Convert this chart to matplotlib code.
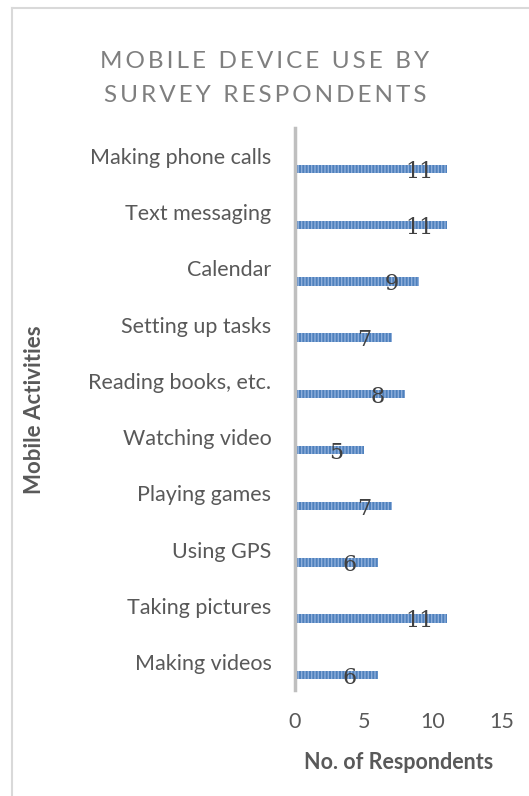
import matplotlib.pyplot as plt
from matplotlib.lines import Line2D

# data
activities = ['Making phone calls', 'Text messaging', 'Calendar', 'Setting up tasks',
              'Reading books, etc.', 'Watching video', 'Playing games', 'Using GPS',
              'Taking pictures', 'Making videos']
respondents = [11, 11, 9, 7, 8, 5, 7, 6, 11, 6]
xticks = [0, 5, 10, 15]

plt.rcParams['font.family'] = ['Lato', 'DejaVu Sans']
plt.rcParams['hatch.linewidth'] = 1.0

fig = plt.figure(figsize=(5.29, 7.96), dpi=100)
ax = fig.add_axes([295 / 529, 1 - 690 / 796, 207 / 529, 562 / 796])

pos = list(range(len(activities)))
bar_pos = [p + 0.23 for p in pos]
ax.barh(bar_pos, respondents, height=0.15, color='#4f81bd',
        edgecolor='#8eaedb', linewidth=0, hatch='|||||')

for y, v in zip(bar_pos, respondents):
    ax.annotate(str(v), (v, y), xytext=(-20, -2), textcoords='offset points',
                ha='center', va='center', fontsize=16, color='#404040',
                family='DejaVu Serif')

ax.set_xlim(0, 15)
ax.set_ylim(9.5, -0.5)
ax.set_xticks(xticks)
ax.set_yticks(pos)
ax.set_yticklabels(activities)
ax.tick_params(axis='both', length=0, colors='#595959', labelsize=15.5)
ax.tick_params(axis='y', pad=17)
ax.tick_params(axis='x', pad=16)

for s in ['top', 'right', 'bottom']:
    ax.spines[s].set_visible(False)
ax.spines['left'].set_color('#bfbfbf')
ax.spines['left'].set_linewidth(2.5)

ax.set_xlabel('No. of Respondents', fontsize=15.5, color='#595959',
              fontweight='bold', labelpad=14)
fig.text(35 / 529, 1 - 410 / 796, 'Mobile Activities', rotation=90,
         ha='center', va='center', fontsize=16, color='#595959', fontweight='bold')

sp = '\u2009'
def spaced(s):
    return sp.join(s).replace(sp + ' ' + sp, '  ')

fig.text(265 / 529, 1 - 62 / 796, spaced('MOBILE DEVICE USE BY'), ha='center',
         va='center', fontsize=17.5, color='#7f7f7f')
fig.text(265 / 529, 1 - 95 / 796, spaced('SURVEY RESPONDENTS'), ha='center',
         va='center', fontsize=17.5, color='#7f7f7f')

# outer chart frame (left and top edges only visible)
fig.add_artist(Line2D([12 / 529, 12 / 529], [0, 1 - 8 / 796], color='#d9d9d9', lw=1.5))
fig.add_artist(Line2D([12 / 529, 1], [1 - 8 / 796, 1 - 8 / 796], color='#d9d9d9', lw=1.5))

fig.savefig('out.png', dpi=100)
